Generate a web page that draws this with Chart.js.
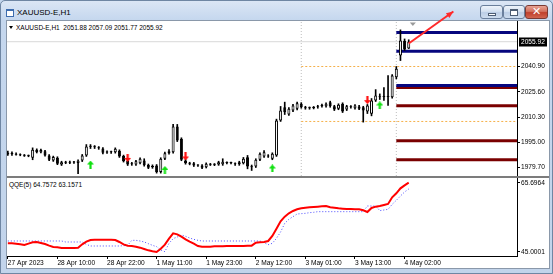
<!DOCTYPE html>
<html>
<head>
<meta charset="utf-8">
<script src="https://cdn.jsdelivr.net/npm/chart.js@4.4.1/dist/chart.umd.min.js"></script>
<style>
html,body{margin:0;padding:0;}
body{width:553px;height:274px;position:relative;overflow:hidden;background:#c3d5ec;font-family:"Liberation Sans",Arial,sans-serif;}
#frame{position:absolute;left:0;top:0;width:553px;height:274px;box-sizing:border-box;border:1px solid #6f86a3;border-radius:5px 5px 0 0;background:linear-gradient(#dbe6f5 0px,#c5d7ee 19px,#c2d4eb 100%);}
#client{position:absolute;left:6px;top:20px;width:544px;height:249px;box-sizing:border-box;border:1px solid #8a98aa;background:#fff;}
#sep{position:absolute;left:7px;top:176px;width:542px;height:2px;background:#7c7c7c;}
#title{position:absolute;left:17px;top:8px;font-size:8px;line-height:10px;color:#000;white-space:nowrap;}
#icon{position:absolute;left:6px;top:9px;width:8px;height:8px;box-sizing:border-box;border:1px solid #3d6cae;border-top-width:2px;background:#fff;}
.btn{position:absolute;top:5px;height:14px;box-sizing:border-box;border:1px solid #6a7f9c;border-radius:3px;background:linear-gradient(#eef4fb 0%,#d3e0f0 45%,#bccee6 55%,#cddcee 100%);}
#bmin{left:480px;width:23px;}
#bmax{left:503px;width:22px;}
#bcls{left:525px;width:23px;border-color:#7a3a34;background:linear-gradient(#e8a293 0%,#d2715f 45%,#c0402c 55%,#d06450 100%);}
#gmin{position:absolute;left:7px;top:7px;width:8px;height:3px;box-sizing:border-box;border:1px solid #4d5d73;background:#fff;}
#gmax{position:absolute;left:6px;top:3px;width:8px;height:7px;box-sizing:border-box;border:1px solid #4d5d73;border-top-width:2px;background:#fff;}
#gcls{position:absolute;left:0;top:-1px;width:21px;text-align:center;font:bold 11px "DejaVu Sans",sans-serif;color:#fff;line-height:13px;}
.legend{position:absolute;font-size:6.5px;line-height:8px;color:#000;white-space:nowrap;}
#tri{position:absolute;left:9px;top:26px;width:0;height:0;border-left:2.5px solid transparent;border-right:2.5px solid transparent;border-top:3px solid #000;}
canvas{position:absolute;}
#cA{left:7px;top:0px;}
#cB{left:7px;top:178px;}
</style>
</head>
<body>
<div id="frame"></div>
<div id="icon"></div>
<div id="title">XAUUSD-E,H1</div>
<div class="btn" id="bmin"><div id="gmin"></div></div>
<div class="btn" id="bmax"><div id="gmax"></div></div>
<div class="btn" id="bcls"><div id="gcls">✕</div></div>
<div id="client"></div>
<div id="sep"></div>
<div id="tri"></div>
<div class="legend" id="lgA" style="left:16px;top:24px;">XAUUSD-E,H1&nbsp; 2051.88 2057.09 2051.77 2055.92</div>
<div class="legend" id="lgB" style="left:9px;top:181px;">QQE(5) 64.7572 63.1571</div>
<canvas id="cA" width="542" height="176"></canvas>
<canvas id="cB" width="542" height="90"></canvas>
<script>
// ---------------- data ----------------
const opens = [
1988.8,1987.9,1988.0,1987.5,1987.1,1986.8,1985.6,1990.4,1989.0,1989.5,
1987.0,1984.0,1985.6,1981.5,1982.9,1982.6,1982.9,1982.5,1983.9,1987.0,
1992.4,1992.2,1991.8,1991.2,1988.8,1989.0,1988.9,1989.8,1986.6,1983.6,
1981.6,1981.5,1982.3,1984.0,1981.2,1979.8,1980.9,1976.9,1985.0,1988.4,
1989.0,2004.5,1997.1,1984.0,1982.3,1982.2,1980.9,1980.9,1979.9,1981.5,
1981.3,1981.5,1981.6,1982.6,1982.4,1982.0,1981.6,1982.3,1985.9,1980.5,
1980.3,1984.4,1986.4,1986.8,1985.0,1987.0,2008.2,2016.2,2011.8,2014.3,
2015.3,2018.3,2016.1,2015.6,2015.8,2016.2,2016.8,2016.8,2019.3,2016.8,
2015.3,2018.3,2014.8,2016.6,2015.6,2016.7,2016.2,2013.6,2012.2,2020.3,
2022.8,2022.4,2023.1,2022.3,2034.4,2047.6,2056.5,2051.88];
const highs = [
1989.7,1989.2,1988.6,1988.0,1987.6,1987.3,1991.6,1991.0,1990.9,1990.1,
1987.6,1986.6,1986.2,1983.5,1983.5,1983.6,1983.5,1984.4,1987.6,1993.6,
1993.6,1993.0,1992.4,1991.8,1989.8,1989.6,1991.6,1990.4,1987.2,1984.2,
1982.8,1984.1,1985.6,1985.0,1981.8,1981.3,1981.5,1985.6,1989.0,1990.6,
2005.8,2005.8,1997.7,1984.6,1982.9,1982.8,1981.5,1981.4,1982.5,1982.2,
1982.1,1983.5,1985.0,1983.2,1983.0,1982.5,1983.5,1985.8,1987.0,1981.2,
1985.0,1988.6,1989.9,1987.5,1988.6,2009.0,2016.7,2019.3,2016.0,2018.0,
2019.4,2019.0,2016.8,2016.4,2016.7,2017.4,2018.2,2018.9,2019.9,2017.4,
2018.3,2018.9,2017.4,2017.2,2017.9,2017.3,2016.8,2017.9,2021.5,2026.9,
2024.3,2028.1,2035.4,2036.0,2040.9,2063.1,2057.6,2057.09];
const lows = [
1987.0,1987.0,1987.2,1986.8,1986.4,1986.2,1984.4,1988.5,1988.6,1986.5,
1983.9,1983.4,1981.4,1980.9,1982.0,1982.0,1982.1,1976.0,1983.3,1986.4,
1991.2,1991.2,1990.7,1988.0,1988.2,1988.2,1988.4,1985.8,1983.0,1980.9,
1981.0,1981.0,1981.8,1980.5,1979.0,1979.2,1976.3,1976.3,1984.5,1987.8,
1988.4,1995.4,1983.8,1981.7,1981.3,1980.3,1980.3,1979.0,1979.4,1980.9,
1980.8,1981.0,1981.0,1981.9,1981.8,1981.0,1981.0,1981.8,1978.9,1977.9,
1979.7,1983.8,1985.8,1985.8,1984.4,1986.4,2007.6,2011.8,2011.2,2013.6,
2014.6,2015.6,2015.0,2015.0,2015.2,2015.6,2016.3,2016.2,2016.2,2014.2,
2014.7,2013.0,2014.2,2015.6,2015.0,2014.7,2007.2,2012.4,2011.0,2019.7,
2020.9,2020.3,2017.3,2021.7,2033.4,2044.5,2050.6,2051.77];
const closes = [
1987.6,1988.1,1987.5,1987.1,1986.8,1986.5,1990.4,1989.0,1990.3,1987.0,
1984.4,1986.0,1982.0,1982.9,1982.6,1982.9,1982.8,1983.8,1987.0,1992.4,
1992.2,1992.0,1991.3,1988.6,1989.0,1988.9,1991.0,1986.4,1983.5,1981.5,
1982.0,1983.5,1985.0,1981.0,1979.5,1980.6,1976.9,1985.0,1988.4,1989.5,
2004.5,1996.0,1984.4,1982.3,1982.0,1980.9,1981.0,1979.5,1981.9,1981.3,
1981.6,1982.9,1983.2,1982.4,1982.5,1981.6,1982.9,1985.0,1980.3,1979.9,
1984.4,1988.0,1989.0,1986.4,1988.0,2008.2,2014.2,2013.2,2015.3,2017.3,
2018.7,2016.2,2015.6,2015.7,2016.0,2016.8,2017.6,2018.3,2016.8,2014.8,
2017.7,2013.6,2016.8,2016.2,2017.3,2015.3,2014.2,2017.3,2020.3,2023.3,
2022.3,2023.1,2022.4,2035.4,2039.5,2056.7,2051.2,2055.92];

const qqeMain = [
47.6,47.6,47.5,47.3,47.1,47.5,47.9,48.0,47.7,47.4,
46.9,46.5,46.4,46.2,46.2,46.2,46.2,46.3,47.3,48.1,
48.6,48.7,48.7,48.7,48.7,48.7,48.6,48.0,47.3,46.9,
46.8,46.6,46.3,45.9,45.5,45.2,45.0,46.0,47.2,49.0,
50.6,50.3,49.6,48.8,48.1,47.5,46.8,46.6,46.6,46.6,
46.7,46.7,46.7,46.8,46.8,46.8,46.8,46.8,46.9,46.9,
47.8,47.9,48.0,48.3,49.8,52.0,54.2,55.6,56.6,57.3,
57.8,58.1,58.3,58.4,58.5,58.6,58.7,58.8,58.4,58.3,
58.1,58.0,57.9,57.9,57.8,57.8,57.5,57.0,58.2,58.6,
58.8,59.1,59.4,61.4,62.6,64.1,65.0,65.8];
const qqeSignal = [
48.3,48.3,48.3,48.3,48.3,48.3,48.3,48.3,48.3,48.3,
48.3,48.3,48.3,48.3,48.0,48.0,48.0,48.0,48.0,47.3,
46.8,46.8,46.8,46.8,46.8,46.8,46.8,46.8,46.9,47.0,
48.5,48.5,48.3,48.0,47.5,47.0,46.6,45.6,45.1,47.6,
49.0,49.5,50.1,49.7,49.2,48.8,48.5,48.3,48.3,48.3,
48.3,48.3,48.3,48.3,48.3,48.3,48.3,48.3,48.3,48.3,
48.3,48.3,47.8,47.2,47.6,49.1,51.0,53.6,54.8,55.6,
56.4,56.5,56.6,56.8,56.9,57.1,57.1,57.1,57.1,57.1,
57.1,57.1,57.1,57.1,57.1,57.1,57.1,58.8,58.8,58.8,
57.4,57.6,57.8,59.3,60.5,61.8,63.0,63.9];

const timeLabels = ['27 Apr 2023','28 Apr 10:00','28 Apr 22:00','1 May 11:00','1 May 23:00','2 May 12:00','3 May 01:00','3 May 13:00','4 May 02:00'];
const timeTickIndex = [0,12,24,36,48,60,72,84,96];
const priceTicks = [2040.90,2025.60,2010.30,1995.00,1979.70];
const qqeTicks = [45.0001,65.6964];

const blueLevels = [2061.5,2050.2,2029.4];
const redLevels = [2028.2,2017.1,1995.9,1984.4];
const levelStartIndex = 94;
const orangeLevels = [2040.9,2007.6];
const orangeStartIndex = 71;
const separatorIndex = [71,94];
const buyIndex = [20,38,64,90];
const buyPrice = [1981.5,1978.2,1979.1,2017.3];
const sellIndex = [29,43,87];
const sellPrice = [1985.5,1986.4,2020.5];
const trendFrom = [97,2054.8];
const trendTo = [107.8,2074.2];
const shiftIndex = 98;

// ---------------- layout constants ----------------
const FONT = '"Liberation Sans", Arial, sans-serif';
const X_MIN = -0.2, X_MAX = 123.2;
const P_MIN = 1974.55, P_MAX = 2068.47;
const Q_MIN = 43.80, Q_MAX = 67.196;
const N = closes.length;
const idx = closes.map((_, i) => i);
const lastClose = closes[N - 1];

function arrowImg(color, up) {
  const c = document.createElement('canvas');
  c.width = 7; c.height = 8;
  const g = c.getContext('2d');
  g.fillStyle = color; g.beginPath();
  if (up) { g.moveTo(3.5,0); g.lineTo(7,4); g.lineTo(4.6,4); g.lineTo(4.6,8); g.lineTo(2.4,8); g.lineTo(2.4,4); g.lineTo(0,4); }
  else { g.moveTo(3.5,8); g.lineTo(7,4); g.lineTo(4.6,4); g.lineTo(4.6,0); g.lineTo(2.4,0); g.lineTo(2.4,4); g.lineTo(0,4); }
  g.closePath(); g.fill();
  return c;
}

function hLine(level, from, color, width, dash, order) {
  return {type:'line', data:[{x:from,y:level},{x:X_MAX,y:level}], borderColor:color, borderWidth:width,
          borderDash:dash, pointRadius:0, order:order};
}
function noPad(s) { s.paddingTop = 0; s.paddingBottom = 0; s.paddingLeft = 0; s.paddingRight = 0; }

const datasetsA = [];
separatorIndex.forEach(s => datasetsA.push({type:'line', data:[{x:s,y:P_MIN},{x:s,y:P_MAX}], borderColor:'#bdbdbd', borderWidth:1, borderDash:[1,2], pointRadius:0, order:9}));
orangeLevels.forEach(l => datasetsA.push(hLine(l, orangeStartIndex, '#f5b04a', 1, [2,2], 8)));
datasetsA.push(hLine(lastClose, X_MIN, '#d8d8d8', 1, [], 7));
redLevels.forEach(l => datasetsA.push(hLine(l, levelStartIndex, '#7a0000', 3, [], 6)));
blueLevels.forEach(l => datasetsA.push(hLine(l, levelStartIndex, '#06067e', 3, [], 5)));
datasetsA.push({type:'bar', data: idx.map(i => ({x:i, y:[lows[i], highs[i]]})), backgroundColor:'#000', borderWidth:0,
  grouped:false, barPercentage:1, categoryPercentage:1, maxBarThickness:1, order:3});
datasetsA.push({type:'bar', data: idx.map(i => ({x:i, y:[opens[i], closes[i]]})),
  backgroundColor: c => (closes[c.dataIndex] >= opens[c.dataIndex] ? '#ffffff' : '#000000'),
  borderColor:'#000', borderWidth:1, borderSkipped:false, minBarLength:1, inflateAmount:0,
  grouped:false, barPercentage:1, categoryPercentage:1, maxBarThickness:3, order:2});
datasetsA.push({type:'line', showLine:false, data: buyIndex.map((b,k)=>({x:b,y:buyPrice[k]})), pointStyle: arrowImg('#10e010', true), pointRadius:3, pointHoverRadius:3, order:1});
datasetsA.push({type:'line', showLine:false, data: sellIndex.map((b,k)=>({x:b,y:sellPrice[k]})), pointStyle: arrowImg('#ff1010', false), pointRadius:3, pointHoverRadius:3, order:1});
datasetsA.push({type:'line', data:[{x:trendFrom[0],y:trendFrom[1]},{x:trendTo[0],y:trendTo[1]}], borderColor:'#ff2a2a', borderWidth:2, pointRadius:0, clip:false, order:0});

const overlayA = {
  id:'overlayA',
  afterDraw(chart) {
    const {ctx, scales:{x, y}, chartArea} = chart;
    ctx.save();
    // trend arrow head
    const meta = chart.getDatasetMeta(chart.data.datasets.length - 1);
    const p0 = meta.data[0], p1 = meta.data[1];
    const ang = Math.atan2(p1.y - p0.y, p1.x - p0.x);
    const L = 7, W = 3;
    ctx.fillStyle = '#ff2a2a';
    ctx.beginPath();
    ctx.moveTo(p1.x, p1.y);
    ctx.lineTo(p1.x - L*Math.cos(ang) + W*Math.sin(ang), p1.y - L*Math.sin(ang) - W*Math.cos(ang));
    ctx.lineTo(p1.x - L*Math.cos(ang) - W*Math.sin(ang), p1.y - L*Math.sin(ang) + W*Math.cos(ang));
    ctx.closePath(); ctx.fill();
    // current price box
    const py = y.getPixelForValue(lastClose);
    ctx.fillStyle = '#000';
    ctx.fillRect(chartArea.right + 2, Math.round(py) - 4.5, 28, 9);
    ctx.fillStyle = '#fff';
    ctx.font = '6.6px ' + FONT;
    ctx.textBaseline = 'middle';
    ctx.fillText(lastClose.toFixed(2), chartArea.right + 4, Math.round(py));
    // chart shift marker
    const sx = x.getPixelForValue(shiftIndex);
    ctx.fillStyle = '#9a9a9a';
    ctx.beginPath();
    ctx.moveTo(sx - 3, chartArea.top + 1.5); ctx.lineTo(sx + 3, chartArea.top + 1.5); ctx.lineTo(sx, chartArea.top + 5);
    ctx.closePath(); ctx.fill();
    ctx.restore();
  }
};

new Chart(document.getElementById('cA'), {
  type:'bar',
  data:{datasets: datasetsA},
  plugins:[overlayA],
  options:{
    responsive:false, animation:false, events:[],
    layout:{autoPadding:false, padding:{top:21, left:0, right:0, bottom:0}},
    plugins:{legend:{display:false}, tooltip:{enabled:false}},
    scales:{
      x:{type:'linear', min:X_MIN, max:X_MAX, offset:false, display:false},
      y:{position:'right', min:P_MIN, max:P_MAX,
         afterBuildTicks: s => { s.ticks = priceTicks.map(v => ({value:v})); },
         afterFit: s => { s.width = 32; noPad(s); },
         ticks:{autoSkip:false, callback: v => Number(v).toFixed(2), font:{size:6.6, family:FONT}, color:'#000', padding:1},
         grid:{drawOnChartArea:false, drawTicks:true, tickLength:3, color:'#000'},
         border:{display:true, color:'#000', width:1}}
    }
  }
});

new Chart(document.getElementById('cB'), {
  type:'line',
  data:{datasets:[
    {data: idx.map(i => ({x:i, y:qqeMain[i]})), borderColor:'#ff0000', borderWidth:2, pointRadius:0, tension:0, order:0},
    {data: idx.map(i => ({x:i, y:qqeSignal[i]})), borderColor:'#4a4aff', borderWidth:1, borderDash:[1,2], pointRadius:0, tension:0, order:1}
  ]},
  options:{
    responsive:false, animation:false, events:[],
    layout:{autoPadding:false, padding:0},
    plugins:{legend:{display:false}, tooltip:{enabled:false}},
    scales:{
      x:{type:'linear', min:X_MIN, max:X_MAX, offset:false,
         afterBuildTicks: s => { s.ticks = timeTickIndex.map(v => ({value:v})); },
         afterFit: s => { s.height = 12; noPad(s); },
         ticks:{autoSkip:false, maxRotation:0, align:'start', padding:0,
                callback: v => timeLabels[timeTickIndex.indexOf(v)],
                font:{size:6.6, family:FONT}, color:'#000'},
         grid:{drawOnChartArea:false, drawTicks:true, tickLength:3, color:'#000'},
         border:{display:true, color:'#000', width:1}},
      y:{position:'right', min:Q_MIN, max:Q_MAX,
         afterBuildTicks: s => { s.ticks = qqeTicks.map(v => ({value:v})); },
         afterFit: s => { s.width = 32; noPad(s); },
         ticks:{autoSkip:false, callback: v => Number(v).toFixed(4), font:{size:6.6, family:FONT}, color:'#000', padding:1},
         grid:{drawOnChartArea:false, drawTicks:true, tickLength:3, color:'#000'},
         border:{display:true, color:'#000', width:1}}
    }
  }
});
</script>
</body>
</html>
